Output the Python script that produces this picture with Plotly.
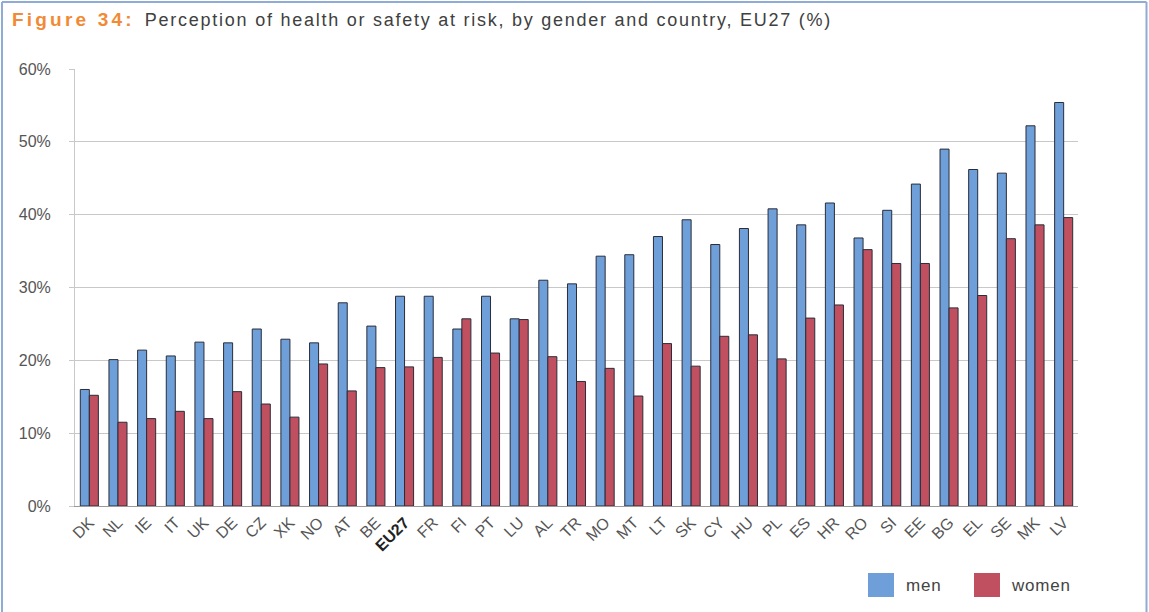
import plotly.graph_objects as go

# Share of workers who think their health or safety is at risk because of work (%)
countries = ["DK", "NL", "IE", "IT", "UK", "DE", "CZ", "XK", "NO", "AT", "BE", "EU27",
             "FR", "FI", "PT", "LU", "AL", "TR", "MO", "MT", "LT", "SK", "CY", "HU",
             "PL", "ES", "HR", "RO", "SI", "EE", "BG", "EL", "SE", "MK", "LV"]
men = [16.0, 20.1, 21.4, 20.6, 22.5, 22.4, 24.3, 22.9, 22.4, 27.9, 24.7, 28.8,
       28.8, 24.3, 28.8, 25.7, 31.0, 30.5, 34.3, 34.5, 37.0, 39.3, 35.9, 38.1,
       40.8, 38.6, 41.6, 36.8, 40.6, 44.2, 49.0, 46.2, 45.7, 52.2, 55.4]
women = [15.2, 11.5, 12.0, 13.0, 12.0, 15.7, 14.0, 12.2, 19.5, 15.8, 19.0, 19.1,
         20.4, 25.7, 21.0, 25.6, 20.5, 17.1, 18.9, 15.1, 22.3, 19.2, 23.3, 23.5,
         20.2, 25.8, 27.6, 35.2, 33.3, 33.3, 27.2, 28.9, 36.7, 38.6, 39.6]
y_ticks = [0, 10, 20, 30, 40, 50, 60]
y_tick_labels = ["0%", "10%", "20%", "30%", "40%", "50%", "60%"]

MEN_COLOR = "#6f9fd8"
WOMEN_COLOR = "#c0505f"
OUTLINE = "#2a2d3a"
FONT = "Liberation Sans, Arial, sans-serif"

W, H = 1149, 612
ML, MR, MT, MB = 75, 71, 69, 106
PW, PH = W - ML - MR, H - MT - MB


def px(x):
    return (x - ML) / PW


def py(y):
    return (H - MB - y) / PH


tick_text = ["<span style='color:#222222'><b>%s</b></span>" % c if c == "EU27" else c for c in countries]

fig = go.Figure()
fig.add_trace(go.Bar(x=countries, y=men, name="men",
                     marker=dict(color=MEN_COLOR, line=dict(color=OUTLINE, width=1))))
fig.add_trace(go.Bar(x=countries, y=women, name="women",
                     marker=dict(color=WOMEN_COLOR, line=dict(color=OUTLINE, width=1))))

shapes = []
# outer frame (top, left, right)
frame = dict(type="line", xref="paper", yref="paper", line=dict(color="#8eacd4", width=2))
shapes.append(dict(frame, x0=px(2), x1=px(1146.5), y0=py(2), y1=py(2)))
shapes.append(dict(frame, x0=px(2), x1=px(2), y0=py(2), y1=py(612)))
shapes.append(dict(frame, x0=px(1146.5), x1=px(1146.5), y0=py(2), y1=py(612)))

# legend swatches
for x0, col in [(868, MEN_COLOR), (974, WOMEN_COLOR)]:
    shapes.append(dict(type="rect", xref="paper", yref="paper", x0=px(x0), x1=px(x0 + 26),
                       y0=py(597), y1=py(573), fillcolor=col, line=dict(width=0)))

legend_font = dict(family=FONT, size=17, color="#444444")
annotations = [
    dict(text="<span style='letter-spacing:0.8px'>men</span>", x=px(904), y=py(585),
         xref="paper", yref="paper", xanchor="left", yanchor="middle",
         showarrow=False, font=legend_font),
    dict(text="<span style='letter-spacing:0.8px'>women</span>", x=px(1009), y=py(585),
         xref="paper", yref="paper", xanchor="left", yanchor="middle",
         showarrow=False, font=legend_font),
]

fig.update_layout(
    width=W, height=H,
    margin=dict(l=ML, r=MR, t=MT, b=MB, autoexpand=False),
    paper_bgcolor="white", plot_bgcolor="white",
    barmode="group", bargap=0.37, bargroupgap=0,
    showlegend=False,
    title=dict(
        text="<span style='color:#f28a35;letter-spacing:3.2px;font-size:19px'><b>Figure 34:</b></span>"
             "&nbsp;&nbsp;<span style='letter-spacing:1.75px'>Perception of health or safety at risk, "
             "by gender and country, EU27 (%)</span>",
        x=12 / W, xanchor="left", xref="container",
        y=1 - 20 / H, yanchor="middle", yref="container",
        font=dict(family=FONT, size=18, color="#404040"),
    ),
    font=dict(family=FONT, color="#555555"),
    xaxis=dict(
        tickmode="array", tickvals=countries, ticktext=tick_text,
        tickangle=-45, tickfont=dict(family=FONT, size=16, color="#555555"),
        showgrid=False, showline=True, linecolor="#9a9a9a", linewidth=1,
        ticks="", range=[-0.5, len(countries) - 0.5],
    ),
    yaxis=dict(
        range=[0, 60], tickmode="array", tickvals=y_ticks, ticktext=y_tick_labels,
        tickfont=dict(family=FONT, size=16, color="#555555"),
        showgrid=True, gridcolor="#c8c8c8", gridwidth=1,
        showline=True, linecolor="#c8c8c8", linewidth=1,
        ticks="outside", ticklen=5, tickcolor="#c8c8c8",
        ticklabelstandoff=15, zeroline=False,
    ),
    shapes=shapes,
    annotations=annotations,
)

fig.write_html("out.html")
